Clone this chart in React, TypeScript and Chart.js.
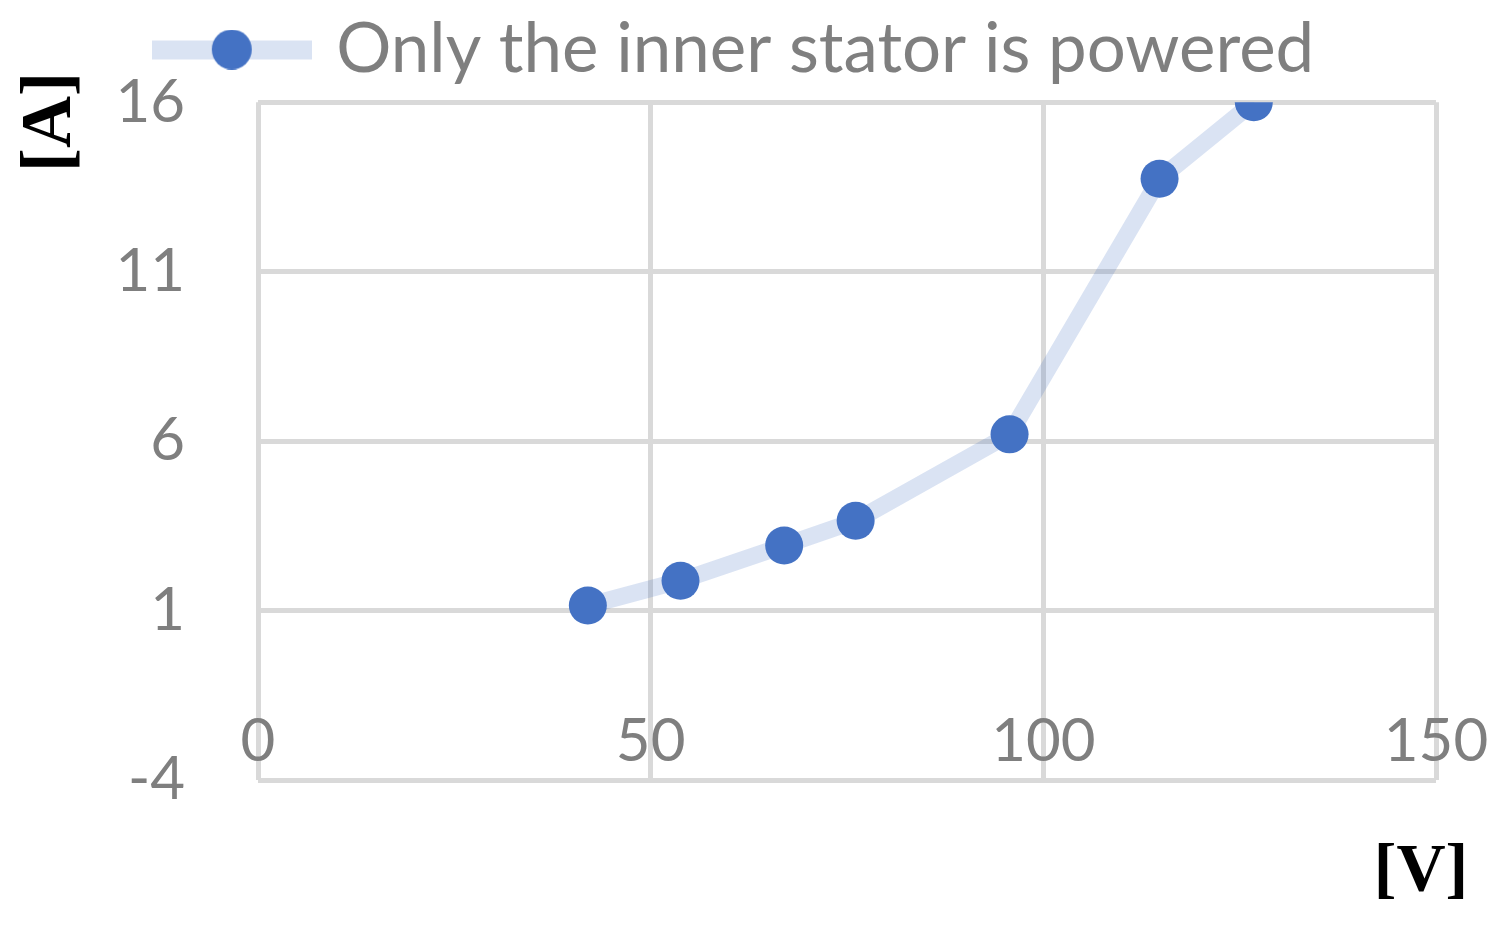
import React, { useEffect, useRef } from "react";
import { Chart, registerables } from "chart.js";

Chart.register(...registerables);

const seriesLabel = "Only the inner stator is powered";
const voltage = [42, 53.8, 67, 76.1, 95.7, 114.8, 126.8];
const current = [1.15, 1.88, 2.92, 3.65, 6.2, 13.74, 16.0];
const xTicks = [0, 50, 100, 150];
const yTicks = [-4, 1, 6, 11, 16];
const xTitle = "[V]";
const yTitle = "[A]";

const GRID = "#d9d9d9";
const TEXT = "#7f7f7f";
const LINE = "rgba(68,114,196,0.2)";
const POINT = "#4472C4";
const SANS = "Lato, 'Open Sans', sans-serif";
const SERIF = "'Liberation Serif', 'DejaVu Serif', serif";

const titlesPlugin = {
  id: "axisTitles",
  afterDraw(chart: any) {
    const ctx = chart.ctx;
    ctx.save();
    ctx.fillStyle = "#000";
    ctx.textAlign = "center";
    ctx.textBaseline = "middle";
    ctx.save();
    ctx.font = `bold 72px ${SERIF}`;
    ctx.translate(51, 122);
    ctx.rotate(-Math.PI / 2);
    ctx.fillText(yTitle, 0, 0);
    ctx.restore();
    ctx.font = `bold 68px ${SERIF}`;
    ctx.fillText(xTitle, 1421, 872);
    ctx.restore();
  },
};

export default function App() {
  const ref = useRef<HTMLCanvasElement>(null);
  useEffect(() => {
    if (!ref.current) return;
    const marker = document.createElement("canvas");
    marker.width = 160;
    marker.height = 40;
    const mctx = marker.getContext("2d")!;
    mctx.fillStyle = LINE;
    mctx.fillRect(0, 11, 160, 19);
    mctx.fillStyle = POINT;
    mctx.beginPath();
    mctx.arc(80, 20, 20, 0, Math.PI * 2);
    mctx.fill();

    const chart = new Chart(ref.current, {
      type: "line",
      data: {
        datasets: [
          {
            label: seriesLabel,
            data: voltage.map((v, i) => ({ x: v, y: current[i] })),
            borderColor: LINE,
            borderWidth: 17,
            backgroundColor: POINT,
            pointBackgroundColor: POINT,
            pointBorderWidth: 0,
            pointRadius: 19,
            pointHoverRadius: 19,
            tension: 0,
            fill: false,
          },
        ],
      },
      options: {
        animation: false,
        responsive: false,
        maintainAspectRatio: false,
        layout: { padding: { left: 40, right: 71, top: -21, bottom: 0 } },
        plugins: {
          tooltip: { enabled: false },
          subtitle: {
            display: true,
            text: "",
            weight: 500,
            font: { size: 1 },
            padding: { top: 0, bottom: 7 },
          },
          legend: {
            display: true,
            position: "top",
            labels: {
              usePointStyle: true,
              pointStyleWidth: 140,
              color: TEXT,
              font: { family: SANS, size: 69 },
              padding: 36,
              generateLabels: (c: any) => {
                const items = Chart.defaults.plugins.legend.labels.generateLabels(c);
                return items.map((it: any) => ({ ...it, pointStyle: marker, fontColor: TEXT }));
              },
            },
          },
        },
        scales: {
          x: {
            type: "linear",
            min: 0,
            max: 150,
            afterBuildTicks: (s: any) => {
              s.ticks = xTicks.map((v) => ({ value: v }));
            },
            afterFit: (s: any) => {
              s.height = 929 - 780;
              s.paddingLeft = 0;
              s.paddingRight = 0;
            },
            grid: { color: GRID, lineWidth: 5, drawTicks: false },
            border: { display: false },
            ticks: {
              color: TEXT,
              font: { family: SANS, size: 60 },
              mirror: true,
              padding: 2,
              maxRotation: 0,
            },
          },
          y: {
            type: "linear",
            min: -4,
            max: 16,
            afterBuildTicks: (s: any) => {
              s.ticks = yTicks.map((v) => ({ value: v }));
            },
            afterFit: (s: any) => {
              s.width = 258 - 40;
              s.paddingTop = 0;
              s.paddingBottom = 0;
            },
            grid: { color: GRID, lineWidth: 5, drawTicks: false },
            border: { display: false },
            ticks: {
              color: TEXT,
              font: { family: SANS, size: 60 },
              padding: 73,
            },
          },
        },
      },
      plugins: [titlesPlugin],
    });
    return () => chart.destroy();
  }, []);
  return (
    <div style={{ position: "fixed", left: 0, top: 0, width: 1507, height: 929, background: "#fff" }}>
      <canvas ref={ref} width={1507} height={929} style={{ width: 1507, height: 929 }} />
    </div>
  );
}
